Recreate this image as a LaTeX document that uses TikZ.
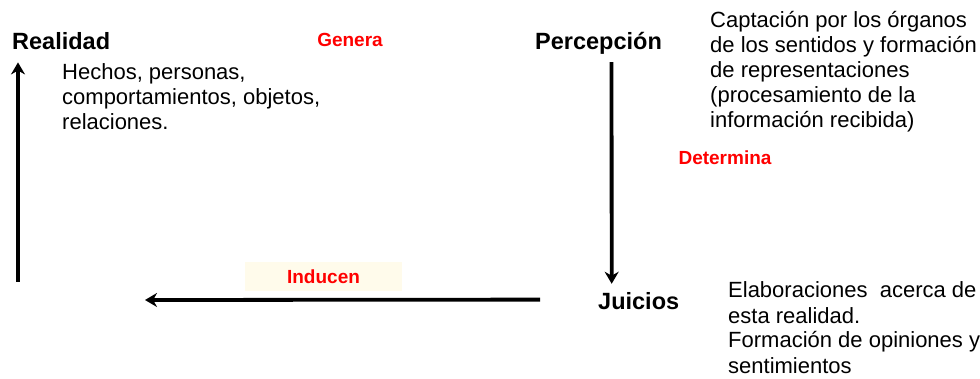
\documentclass[tikz,border=0pt]{standalone}
\usepackage{fontspec}
\setmainfont{Liberation Sans}
\usetikzlibrary{arrows.meta}
\definecolor{inducefill}{RGB}{255,251,235}
\definecolor{verbred}{RGB}{255,0,0}

\begin{document}
\begin{tikzpicture}[x=1pt,y=-1pt,>={Stealth[length=12pt,width=14pt]},
  concept/.style={font=\fontsize{23.5}{26}\selectfont\bfseries,inner sep=0pt,anchor=base west},
  desc/.style={font=\fontsize{22}{25}\selectfont,align=left,inner sep=0pt,anchor=base west},
  verb/.style={font=\fontsize{19}{22}\selectfont\bfseries,text=verbred,inner sep=0pt},
  flow/.style={->,line width=3.8pt}]
\useasboundingbox (0,0) rectangle (980,379);
% concepts
\node[concept] (real) at (12,50) {Realidad};
\node[concept] (perc) at (535,50) {Percepción};
\node[concept] (juic) at (598,310) {Juicios};
% descriptions (anchored on the last line)
\node[desc] (realtxt) at (62,130) {Hechos, personas,\\comportamientos, objetos,\\relaciones.};
\node[desc] (perctxt) at (710,128) {Captación por los órganos\\de los sentidos y formación\\de representaciones\\(procesamiento de la\\información recibida)};
\node[desc] (juictxt) at (728,373) {Elaboraciones~ acerca de\\esta realidad.\\Formación de opiniones y\\sentimientos};
% verbs
\node[verb,anchor=base] (genera) at (350,47) {Genera};
\node[verb,anchor=base] (determina) at (725,165) {Determina};
\node[verb,fill=inducefill,minimum width=157pt,minimum height=29pt] (inducen) at (323.5,276.5) {Inducen};
% arrows
\coordinate (realbase) at (18,282);
\coordinate (izq) at (145,300);
\draw[flow] ([xshift=13pt,yshift=-7pt]perc.south) -- ([xshift=-27pt,yshift=9pt]juic.north);
\draw[flow] ([xshift=-58pt,yshift=2pt]juic.west) -- (izq);
\draw[flow] (realbase) -- ([xshift=6pt,yshift=-12pt]real.south west);
\end{tikzpicture}
\end{document}
